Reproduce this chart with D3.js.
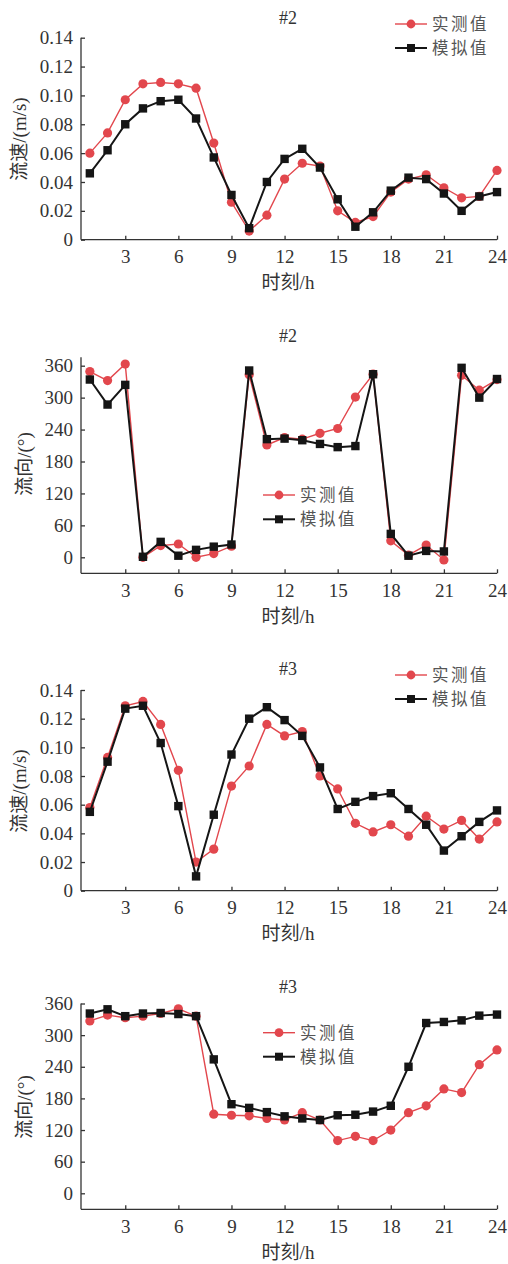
<!DOCTYPE html>
<html><head><meta charset="utf-8">
<script src="https://cdn.jsdelivr.net/npm/d3@7"></script>
<style>body{margin:0;background:#fff}svg{display:block}
.num{font-family:"Liberation Serif","Times New Roman",serif}
.cjk{font-family:"Noto Sans CJK SC",sans-serif}
</style>
</head><body>
<svg id="c" width="508" height="1264"></svg>
<script>
// ---- data ----
const hours = [1,2,3,4,5,6,7,8,9,10,11,12,13,14,15,16,17,18,19,20,21,22,23,24];
const xTicks = [3,6,9,12,15,18,21,24];
const speedTicks = [0,0.02,0.04,0.06,0.08,0.10,0.12,0.14];
const dirTicks = [0,60,120,180,240,300,360];
const seriesNames = ["实测值","模拟值"];
const titles = ["#2","#2","#3","#3"];
const yLabelCjk = ["流速","流向","流速","流向"];
const yLabelUnit = ["/(m/s)","/(°)","/(m/s)","/(°)"];
const xLabelCjk = "时刻";
const xLabelUnit = "/h";

const speed2Measured = [0.060,0.074,0.097,0.108,0.109,0.108,0.105,0.067,0.026,0.006,0.017,0.042,0.053,0.051,0.020,0.012,0.016,0.033,0.042,0.045,0.036,0.029,0.030,0.048];
const speed2Simulated = [0.046,0.062,0.080,0.091,0.096,0.097,0.084,0.057,0.031,0.008,0.040,0.056,0.063,0.050,0.028,0.009,0.019,0.034,0.043,0.042,0.032,0.020,0.030,0.033];
const dir2Measured = [349,332,363,0,22,25,0,7,21,343,211,225,222,233,242,301,344,31,4,23,-5,342,314,334];
const dir2Simulated = [334,287,324,1,29,3,14,20,24,351,222,223,220,213,207,209,344,44,3,12,11,356,300,335];
const speed3Measured = [0.058,0.093,0.129,0.132,0.116,0.084,0.020,0.029,0.073,0.087,0.116,0.108,0.111,0.080,0.071,0.047,0.041,0.046,0.038,0.052,0.043,0.049,0.036,0.048];
const speed3Simulated = [0.055,0.090,0.127,0.129,0.103,0.059,0.010,0.053,0.095,0.120,0.128,0.119,0.108,0.086,0.057,0.062,0.066,0.068,0.057,0.046,0.028,0.038,0.048,0.056];
const dir3Measured = [327,338,333,336,341,350,336,150,148,147,142,139,153,139,100,108,100,120,153,166,198,191,244,272];
const dir3Simulated = [341,349,336,341,342,340,336,254,169,162,154,146,142,139,148,149,155,166,240,323,325,328,337,339];

// ---- layout ----
const RED = "#e2474d", BLACK = "#151515", AXIS = "#333";
const panels = [
  {meas: speed2Measured, sim: speed2Simulated, ticks: speedTicks, fmt: d => d===0?"0":d3.format(".2f")(d),
   dom:[0,0.14], yTop:37.7, yBot:239.7, axTop:37.7, axBot:239.7, titleY:18, legX:395, legY:[24,48], yLabX:19.5, yLabY:139},
  {meas: dir2Measured, sim: dir2Simulated, ticks: dirTicks, fmt: d => String(d),
   dom:[0,360], yTop:365.7, yBot:557.3, axTop:357.3, axBot:573.3, titleY:335.5, legX:263, legY:[495,519.3], yLabX:24.5, yLabY:464},
  {meas: speed3Measured, sim: speed3Simulated, ticks: speedTicks, fmt: d => d===0?"0":d3.format(".2f")(d),
   dom:[0,0.14], yTop:690, yBot:890.7, axTop:690, axBot:890.7, titleY:669, legX:395, legY:[675,699], yLabX:19.5, yLabY:791},
  {meas: dir3Measured, sim: dir3Simulated, ticks: dirTicks, fmt: d => String(d),
   dom:[0,360], yTop:1003.5, yBot:1193.3, axTop:1003.5, axBot:1209.3, titleY:987, legX:263, legY:[1032.7,1056.7], yLabX:24.5, yLabY:1107}
];

const svg = d3.select("#c");
const x = d3.scaleLinear().domain([0.5,24]).range([81,497]);

panels.forEach((p,i) => {
  const y = d3.scaleLinear().domain(p.dom).range([p.yBot,p.yTop]);
  const g = svg.append("g");

  // y axis
  const yAx = g.append("g").attr("transform","translate(81,0)");
  yAx.call(d3.axisLeft(y).tickValues(p.ticks).tickSize(-4).tickFormat(p.fmt).tickPadding(8));
  yAx.select(".domain").remove();
  yAx.append("line").attr("x1",0).attr("x2",0).attr("y1",p.axTop).attr("y2",p.axBot).attr("stroke",AXIS).attr("stroke-width",1.3);
  yAx.selectAll(".tick line").attr("stroke",AXIS).attr("stroke-width",1.3);
  yAx.attr("font-family",null).attr("font-size",null);
  yAx.selectAll(".tick text").attr("class","num").attr("font-size",19).attr("fill","#333");

  // x axis
  const xAx = g.append("g").attr("transform",`translate(0,${p.axBot})`);
  xAx.call(d3.axisBottom(x).tickValues(xTicks).tickSize(-4).tickPadding(10));
  xAx.select(".domain").remove();
  xAx.append("line").attr("x1",81).attr("x2",497).attr("stroke",AXIS).attr("stroke-width",1.3);
  xAx.selectAll(".tick line").attr("stroke",AXIS).attr("stroke-width",1.3);
  xAx.attr("font-family",null).attr("font-size",null);
  xAx.selectAll(".tick text").attr("class","num").attr("font-size",19).attr("fill","#333");

  // labels
  g.append("text").attr("class","num").attr("x",288).attr("y",p.titleY).attr("dy","0.35em").attr("text-anchor","middle")
    .attr("font-size",18).attr("fill","#333").text(titles[i]);
  const xl = g.append("text").attr("x",288).attr("y",p.axBot+43).attr("dy","0.35em").attr("text-anchor","middle")
    .attr("font-size",19).attr("fill","#333");
  xl.append("tspan").attr("class","cjk").text(xLabelCjk);
  xl.append("tspan").attr("class","num").text(xLabelUnit);
  const yl = g.append("text").attr("transform",`translate(${p.yLabX},${p.yLabY}) rotate(-90)`).attr("dy","0.35em").attr("text-anchor","middle")
    .attr("font-size",19).attr("fill","#333");
  yl.append("tspan").attr("class","cjk").text(yLabelCjk[i]);
  yl.append("tspan").attr("class","num").text(yLabelUnit[i]);

  // series
  const line = d3.line().x((d,k)=>x(hours[k])).y(d=>y(d));
  g.append("path").datum(p.meas).attr("d",line).attr("fill","none").attr("stroke",RED).attr("stroke-width",1.4);
  g.selectAll(".m").data(p.meas).join("circle").attr("cx",(d,k)=>x(hours[k])).attr("cy",d=>y(d)).attr("r",4.6).attr("fill",RED);
  g.append("path").datum(p.sim).attr("d",line).attr("fill","none").attr("stroke",BLACK).attr("stroke-width",2);
  g.selectAll(".s").data(p.sim).join("rect").attr("x",(d,k)=>x(hours[k])-4.2).attr("y",d=>y(d)-4.2).attr("width",8.4).attr("height",8.4).attr("fill",BLACK);

  // legend
  const colors = [RED, BLACK];
  seriesNames.forEach((nm,j) => {
    const ly = p.legY[j];
    const lg = g.append("g");
    lg.append("line").attr("x1",p.legX).attr("x2",p.legX+32).attr("y1",ly).attr("y2",ly).attr("stroke",colors[j]).attr("stroke-width",j?2:1.4);
    if (j===0) lg.append("circle").attr("cx",p.legX+16).attr("cy",ly).attr("r",4.4).attr("fill",RED);
    else lg.append("rect").attr("x",p.legX+12).attr("y",ly-4).attr("width",8).attr("height",8).attr("fill",BLACK);
    lg.append("text").attr("class","cjk").attr("x",p.legX+37).attr("y",ly).attr("dy","0.36em")
      .attr("font-size",16.5).attr("letter-spacing",2.5).attr("fill","#555").text(nm);
  });
});
</script>
</body></html>
